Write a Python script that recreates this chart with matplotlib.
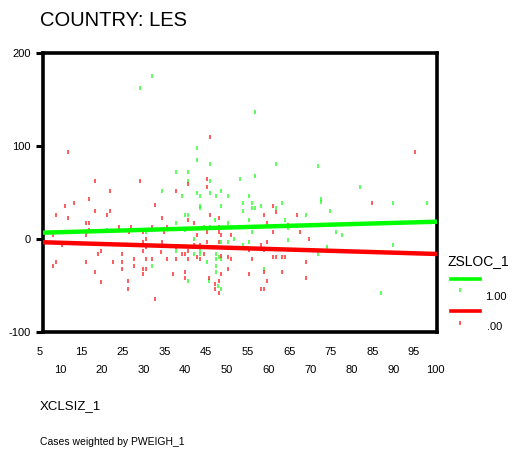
import matplotlib
matplotlib.use("Agg")
import matplotlib.pyplot as plt
from matplotlib.lines import Line2D
from matplotlib.transforms import blended_transform_factory

plt.rcParams['font.family'] = ['Liberation Sans', 'DejaVu Sans']

# ZSLOC_1 = 1.00 cases
green_x = [32.1, 29.2, 42.9, 42.9, 45.9, 37.8, 40.7, 45.9, 53.1, 40.7, 34.3, 48.7,
           42.9, 45.9, 39.3, 43.6, 47.3, 50.2, 55.3,
           56.7, 61.7, 71.9, 56.7, 82.0, 72.6,
           53.8, 43.6, 43.6, 48.7, 40.0, 40.7, 53.8, 47.2, 37.8, 50.2, 44.4, 45.9,
           21.2, 40.0, 30.6, 42.2, 51.6, 48.7, 50.2, 55.2, 37.8, 43.6, 43.6, 42.2,
           47.3, 48.0, 47.3, 48.7, 45.1, 47.3, 32.1, 47.3, 40.7, 45.8, 47.9, 48.7,
           72.6, 90.0, 98.0, 56.0, 58.1, 63.2, 56.0, 56.7, 61.7, 69.0, 74.8, 55.2,
           63.9, 64.7, 56.0, 76.2, 77.7, 64.7, 53.8, 90.0, 74.1, 71.9, 58.9, 87.1]
green_y = [175, 162, 98, 85, 81, 72, 72, 62, 65, 62, 52, 52,
           49, 49, 46, 46, 46, 46, 46,
           137, 81, 78, 68, 56, 43,
           39, 36, 33, 36, 26, 26, 30, 20, 17, 17, 13, 13,
           10, 10, 7, 0, 0, -3, -3, -3, -13, -13, -16, -16,
           -16, -19, -22, -22, -25, -29, -29, -35, -45, -45, -51, -54,
           40, 39, 39, 39, 36, 39, 33, 33, 33, 26, 30, 20,
           20, 12, 7, 7, 4, -1, -6, -6, -9, -16, -32, -58]

# ZSLOC_1 = .00 cases
red_x = [45.9, 11.9, 45.1, 18.3, 29.2, 40.7, 45.1, 22.0, 37.8, 16.8, 95.1,
         11.0, 13.2, 32.8, 18.3, 22.0, 21.1, 8.9, 11.8, 34.3, 45.9, 40.7, 48.0,
         16.2, 16.9, 42.2, 24.1, 27.0, 32.1, 35.7, 48.0, 16.9, 26.4, 29.9, 35.0,
         45.1, 48.0, 42.9, 16.2, 8.2, 48.7, 50.9, 30.6, 45.1, 48.0, 29.9, 10.3,
         34.3, 42.2, 43.6, 30.6, 37.8, 40.7, 29.9, 19.8, 19.1, 24.9, 34.2, 39.3,
         40.0, 44.4, 48.7, 50.2, 50.9, 42.9, 43.6, 40.7, 37.8, 35.7, 32.1, 30.6,
         27.7, 8.9, 8.2, 16.2, 22.7, 24.9, 27.7, 24.9, 29.9, 30.6, 50.2, 18.3,
         40.0, 29.9, 37.1, 48.7, 40.0, 45.8, 48.0, 19.8, 26.3, 47.2, 47.2, 26.3,
         48.0, 32.8,
         84.9, 61.0, 61.7, 58.9, 66.8, 59.6, 61.0, 67.5, 69.7, 59.6, 58.1, 58.9,
         55.2, 61.0, 61.7, 63.2, 63.9, 56.0, 69.0, 58.9, 63.2, 55.2, 69.0, 59.6,
         58.1, 58.9, 64.7]
red_y = [110, 94, 65, 62, 62, 59, 56, 52, 52, 43, 94,
         36, 39, 37, 30, 30, 26, 26, 23, 23, 26, 20, 23,
         17, 17, 17, 13, 13, 13, 13, 13, 10, 7, 7, 7,
         7, 7, 4, 4, 4, 4, 4, 0, -3, -3, -3, -6,
         -3, -6, -6, -9, -9, -13, -13, -13, -16, -16, -14, -16,
         -16, -16, -18, -19, -22, -19, -22, -22, -22, -22, -21, -22,
         -22, -25, -29, -25, -25, -25, -29, -32, -32, -32, -32, -35,
         -35, -38, -38, -38, -42, -42, -45, -46, -45, -48, -54, -54,
         -58, -64,
         39, 35, 29, 26, 26, 17, 7, 7, 0, -3, -6, -12,
         -12, -19, -19, -19, -19, -22, -25, -36, -35, -38, -42, -45,
         -54, -54, 15]

# fitted lines at the axis ends
fit_x = [5.8, 100.5]
green_fit = [6.8, 18.6]
red_fit = [-3.5, -16.1]

x_ticks_top = [5, 15, 25, 35, 45, 55, 65, 75, 85, 95]
x_ticks_bottom = [10, 20, 30, 40, 50, 60, 70, 80, 90, 100]
y_ticks = [-100, 0, 100, 200]

W, H = 518, 454
fig = plt.figure(figsize=(W / 100, H / 100), dpi=100)
ax = fig.add_axes([43 / W, 1 - 332 / H, (437 - 43) / W, (332 - 53) / H])

green = '#00ff00'
red = '#ff0000'

ax.plot(green_x, green_y, linestyle='none', marker='|', markersize=3.5,
        mew=1.2, color=green, alpha=0.75)
ax.plot(red_x, red_y, linestyle='none', marker='|', markersize=3.5,
        mew=1.2, color=red, alpha=0.75)
ax.plot(fit_x, green_fit, color=green, lw=3.2, solid_capstyle='butt', zorder=3)
ax.plot(fit_x, red_fit, color=red, lw=3.2, solid_capstyle='butt', zorder=3)

ax.set_xlim(fit_x[0], fit_x[1])
ax.set_ylim(-100, 200)
for s in ax.spines.values():
    s.set_linewidth(2.6)
    s.set_color('black')

ax.set_yticks(y_ticks)
ax.set_yticklabels([str(v) for v in y_ticks])
ax.tick_params(axis='y', length=5, width=2.2, pad=4, labelsize=8)
ax.set_xticks([])

trans = blended_transform_factory(ax.transData, ax.transAxes)
for v in x_ticks_top:
    ax.text(v, -20 / 279, str(v), transform=trans, ha='center', va='center',
            fontsize=8, clip_on=False)
for v in x_ticks_bottom:
    ax.text(v, -38 / 279, str(v), transform=trans, ha='center', va='center',
            fontsize=8, clip_on=False)

fig.text(40 / W, 1 - 20 / H, 'COUNTRY: LES', fontsize=14.5, va='center', ha='left')
fig.text(40 / W, 1 - 406 / H, 'XCLSIZ_1', fontsize=9.5, va='center', ha='left')
fig.text(40 / W, 1 - 442 / H, 'Cases weighted by PWEIGH_1', fontsize=7.5,
         va='center', ha='left')

# legend
fig.text(448 / W, 1 - 261 / H, 'ZSLOC_1', fontsize=10, va='center', ha='left')
fig.add_artist(Line2D([451 / W, 480 / W], [1 - 279 / H, 1 - 279 / H],
                      transform=fig.transFigure, color=green, lw=2.6))
fig.add_artist(Line2D([460 / W], [1 - 290 / H], transform=fig.transFigure,
                      marker='|', markersize=3.5, mew=1.2, color=green, alpha=0.75))
fig.text(485 / W, 1 - 297 / H, '1.00', fontsize=8, va='center', ha='left')
fig.add_artist(Line2D([451 / W, 480 / W], [1 - 311 / H, 1 - 311 / H],
                      transform=fig.transFigure, color=red, lw=2.6))
fig.add_artist(Line2D([460 / W], [1 - 323 / H], transform=fig.transFigure,
                      marker='|', markersize=3.5, mew=1.2, color=red, alpha=0.75))
fig.text(487 / W, 1 - 327 / H, '.00', fontsize=8, va='center', ha='left')

fig.savefig('out.png', dpi=100)
